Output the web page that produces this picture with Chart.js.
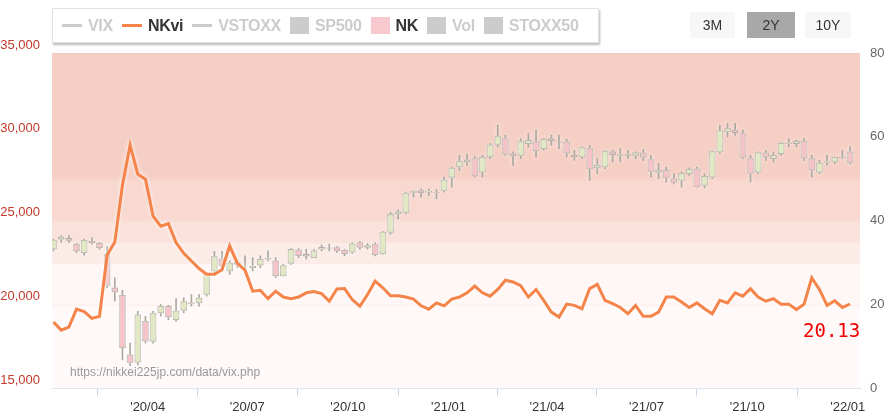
<!DOCTYPE html>
<html>
<head>
<meta charset="utf-8">
<script src="https://cdn.jsdelivr.net/npm/chart.js@4.4.1/dist/chart.umd.min.js"></script>
<style>
  body { margin: 0; background: #fff; font-family: "Liberation Sans", Arial, sans-serif; }
  #wrap { position: relative; width: 890px; height: 418px; }
  #legend { position: absolute; left: 52px; top: 8px; width: 545px; height: 33px; background: #fff;
    border: 1px solid #e2e2e2; box-shadow: 1px 2px 2px #bbb; display: flex; align-items: center;
    font-size: 16px; font-weight: bold; color: #ccc; white-space: nowrap; letter-spacing: -0.3px; }
  #legend span { margin-left: 9px; display: inline-flex; align-items: center; }
  #legend i { display: inline-block; margin-right: 6px; }
  .ln { width: 20px; height: 3px; background: #ccc; }
  .sq { width: 19px; height: 17px; background: #ccc; }
  .on { color: #333; }
  .btn { position: absolute; top: 12px; height: 26px; line-height: 26px; text-align: center;
    font-size: 14px; color: #333; background: #f7f7f7; }
  #mark { position: absolute; left: 70px; top: 365px; font-size: 12px; color: #999; }
  #last { position: absolute; left: 803px; top: 319px; font-size: 19px; color: #e00;
    font-family: "DejaVu Sans Mono", monospace; }
</style>
</head>
<body>
<div id="wrap">
  <canvas id="myChart" width="890" height="418"></canvas>
  <div id="legend">
    <span><i class="ln"></i>VIX</span>
    <span class="on"><i class="ln" style="background:#f5844a"></i>NKvi</span>
    <span><i class="ln"></i>VSTOXX</span>
    <span><i class="sq"></i>SP500</span>
    <span class="on"><i class="sq" style="background:#f7c9cf"></i>NK</span>
    <span><i class="sq"></i>Vol</span>
    <span><i class="sq"></i>STOXX50</span>
  </div>
  <div class="btn" style="left:690px;width:45px">3M</div>
  <div class="btn" style="left:747px;width:48px;background:#a8a8a8">2Y</div>
  <div class="btn" style="left:805px;width:46px">10Y</div>
  <div id="mark">https://nikkei225jp.com/data/vix.php</div>
  <div id="last">20.13</div>
</div>
<script>
// weekly Nikkei 225, week of 2020-01-06 .. 2022-01-03
const nkOpen = [
  23320, 23900, 23950, 23600, 23100, 23790, 23650, 23000, 21000, 20550,
  17000, 16570, 19000, 17800, 19500, 19900, 19100, 19650, 20100, 20100,
  20600, 22000, 22700, 22000, 22400, 22300, 22200, 22350, 22700, 22600,
  21700, 22450, 23250, 23000, 22800, 23300, 23380, 23400, 23250, 23120,
  23700, 23400, 23600, 23030, 24300, 25400, 25500, 26680, 26800, 26700,
  26680, 26800, 27580, 28200, 28500, 28700, 27900, 28800, 29550, 29900,
  29000, 28900, 29600, 29700, 29300, 29900, 29700, 29700, 28900, 28800,
  29300, 28150, 28200, 29100, 28900, 28900, 28900, 29050, 28650, 27900,
  28000, 27500, 27400, 27800, 28100, 27100, 27600, 29100, 30300, 30400,
  30200, 28700, 27900, 29050, 28700, 29000, 29600, 29600, 29750, 28700,
  27900, 28500, 28500, 28750, 29100
];
const nkClose = [
  23850, 24041, 23827, 23205, 23828, 23688, 23387, 21143, 20749, 17431,
  16552, 19389, 17820, 19498, 19897, 19262, 19619, 20179, 20037, 20388,
  21877, 22863, 22305, 22478, 22512, 22306, 22290, 22696, 22751, 21710,
  22329, 23289, 22920, 22882, 23205, 23406, 23360, 23205, 23029, 23619,
  23410, 23516, 22977, 24325, 25385, 25527, 26644, 26751, 26652, 26763,
  26656, 27444, 28139, 28519, 28631, 27663, 28779, 29520, 30018, 28966,
  28864, 29717, 29792, 29176, 29854, 29768, 29683, 29020, 28812, 29357,
  28084, 28317, 29149, 28941, 28948, 28964, 29066, 28783, 27940, 28003,
  27548, 27283, 27820, 28069, 27013, 27641, 29128, 30381, 30500, 30249,
  28771, 27822, 29068, 28804, 28892, 29611, 29609, 29745, 28751, 28029,
  28437, 28545, 28782, 28791, 28478
];
const nkHigh = [
  23900, 24120, 24120, 23650, 23900, 23995, 23700, 23450, 21600, 20850,
  17700, 19600, 19300, 19600, 20000, 19950, 20350, 20400, 20600, 20600,
  21900, 23180, 23180, 22600, 22700, 22900, 22800, 22900, 23200, 22800,
  22400, 23340, 23340, 23300, 23300, 23560, 23600, 23450, 23300, 23700,
  23750, 23640, 23680, 24360, 25500, 25650, 26700, 26800, 26900, 26900,
  26850, 27600, 28200, 28900, 28980, 28820, 28900, 29600, 30700, 30100,
  29100, 29900, 30200, 30400, 29900, 30100, 30100, 29850, 29200, 29400,
  29500, 28700, 29200, 29200, 29300, 29200, 29100, 29250, 28900, 28400,
  28200, 27800, 27900, 28150, 28200, 27800, 29150, 30700, 30800, 30800,
  30400, 28900, 29100, 29200, 29100, 29650, 29900, 29800, 29900, 28900,
  28600, 28900, 28800, 29200, 29400
];
const nkLow = [
  23200, 23700, 23700, 23100, 22950, 23600, 23300, 21000, 20200, 16700,
  16350, 16400, 17700, 17700, 19300, 19100, 19000, 19500, 19900, 19900,
  20500, 21900, 22000, 21800, 22200, 22000, 22000, 22200, 22600, 21600,
  21700, 22400, 22800, 22700, 22800, 23200, 23200, 23100, 22900, 23050,
  23300, 23300, 22900, 23000, 24200, 25100, 25400, 26400, 26400, 26500,
  26300, 26700, 27000, 28000, 28300, 27600, 27600, 28700, 29400, 28900,
  28300, 28700, 29400, 28800, 29200, 29500, 29300, 28800, 28600, 28700,
  27400, 27800, 28100, 28500, 28500, 28700, 28700, 28600, 27600, 27500,
  27300, 27200, 27000, 27700, 27000, 26950, 27500, 29000, 30000, 30100,
  28700, 27300, 27800, 28600, 28500, 28900, 29400, 29400, 28600, 27600,
  27800, 28300, 28400, 28700, 28400
];
// Nikkei volatility index, weekly
const nkvi = [
  15.8, 13.9, 14.6, 18.9, 18.3, 16.7, 17.2, 31.8, 34.9, 48.5,
  58.0, 51.1, 49.9, 41.1, 38.7, 39.3, 34.8, 32.2, 30.4, 28.6,
  27.2, 27.2, 28.3, 34.0, 29.8, 28.2, 23.2, 23.4, 21.4, 23.2,
  21.8, 21.4, 21.8, 22.8, 23.1, 22.6, 20.8, 23.7, 23.8, 21.2,
  19.6, 22.4, 25.6, 24.0, 22.1, 22.1, 21.8, 21.3, 19.7, 18.9,
  20.4, 19.7, 21.3, 21.8, 22.8, 24.4, 22.8, 22.0, 23.6, 25.8,
  25.4, 24.5, 21.8, 23.6, 21.0, 18.2, 17.0, 20.1, 19.8, 19.0,
  23.8, 24.8, 21.0, 20.2, 19.3, 17.8, 19.8, 17.2, 17.2, 18.2,
  21.8, 21.8, 20.6, 19.3, 20.4, 19.0, 17.8, 21.0, 20.4, 22.8,
  22.0, 23.8, 21.8, 20.8, 21.4, 20.1, 20.1, 18.8, 20.1, 26.4,
  23.6, 19.8, 20.9, 19.3, 20.13
];
// quarter ticks, in weeks from 2020-01-06
const tickPos = [12.29, 25.29, 38.43, 51.57, 64.43, 77.43, 90.57, 103.71];
const tickLabels = ["'20/04", "'20/07", "'20/10", "'21/01", "'21/04", "'21/07", "'21/10", "'22/01"];
// background bands on the NKvi axis
const bandFrom = [0, 20, 30, 35, 40, 50];
const bandTo = [20, 30, 35, 40, 50, 80];
const bandColors = ["#fffaf9", "#fff7f5", "#fcece8", "#fae1da", "#f8d8cf", "#f6cfc4"];

const wicks = nkOpen.map((o, i) => ({ x: i, y: [nkLow[i], nkHigh[i]] }));
const bodies = nkOpen.map((o, i) => ({ x: i, y: [o, nkClose[i]] }));
const bodyColors = nkOpen.map((o, i) => (nkClose[i] >= o ? "#e2e8c4" : "#f6c3c8"));
const linePts = nkvi.map((v, i) => ({ x: i, y: v }));

const bandsPlugin = {
  id: "bands",
  beforeDatasetsDraw(chart) {
    const { ctx, chartArea, scales } = chart;
    bandFrom.forEach((f, i) => {
      const y1 = scales.yR.getPixelForValue(bandTo[i]);
      const y2 = scales.yR.getPixelForValue(f);
      ctx.fillStyle = bandColors[i];
      ctx.fillRect(chartArea.left, y1, chartArea.right - chartArea.left, y2 - y1);
      ctx.fillStyle = "rgba(240,190,180,0.35)";
      ctx.fillRect(chartArea.left, y1, chartArea.right - chartArea.left, 1);
    });
  },
};
const glowPlugin = {
  id: "glow",
  beforeDatasetDraw(chart) {
    chart.ctx.save();
    chart.ctx.shadowColor = "rgba(255,255,255,0.95)";
    chart.ctx.shadowBlur = 4;
  },
  afterDatasetDraw(chart) {
    chart.ctx.restore();
  },
};

const myChart = new Chart(document.getElementById("myChart"), {
  type: "bar",
  data: {
    datasets: [
      {
        type: "line", data: linePts, yAxisID: "yR", borderColor: "#f5844a",
        borderWidth: 3, pointRadius: 0, tension: 0, order: 0,
      },
      {
        data: bodies, yAxisID: "y", backgroundColor: bodyColors, borderColor: "#a9a9a0",
        borderWidth: 1, borderSkipped: false, barThickness: 6, grouped: false, order: 1,
      },
      {
        data: wicks, yAxisID: "y", backgroundColor: "#a9a9a0", barThickness: 1, grouped: false, order: 2,
      },
    ],
  },
  options: {
    responsive: false,
    animation: false,
    layout: { padding: { top: 53, right: 0, left: 0, bottom: 0 } },
    plugins: { legend: { display: false }, tooltip: { enabled: false } },
    scales: {
      x: {
        type: "linear", min: -0.2, max: 105.3, offset: false,
        afterBuildTicks(axis) { axis.ticks = tickPos.map((v) => ({ value: v })); },
        ticks: {
          autoSkip: false, maxRotation: 0, color: "#333", font: { size: 13, family: "Liberation Sans" },
          callback(v, i) { return tickLabels[i]; },
        },
        grid: { drawOnChartArea: false, tickLength: 8, color: "#ccd6eb" },
        border: { color: "#ccd6eb" },
      },
      y: {
        position: "left", min: 15000, max: 35000,
        afterFit(axis) { axis.width = 52; },
        ticks: {
          stepSize: 5000, color: "#c0392b", labelOffset: -8, padding: 4,
          font: { size: 13, family: "Liberation Sans" },
          callback(v) { return v.toLocaleString("en-US"); },
        },
        grid: { display: false }, border: { display: false },
      },
      yR: {
        position: "right", min: 0, max: 80,
        afterFit(axis) { axis.width = 30; },
        ticks: { stepSize: 20, color: "#666", padding: 2, font: { size: 13, family: "Liberation Sans" } },
        grid: { display: false }, border: { display: false },
      },
    },
  },
  plugins: [bandsPlugin, glowPlugin],
});
</script>
</body>
</html>
